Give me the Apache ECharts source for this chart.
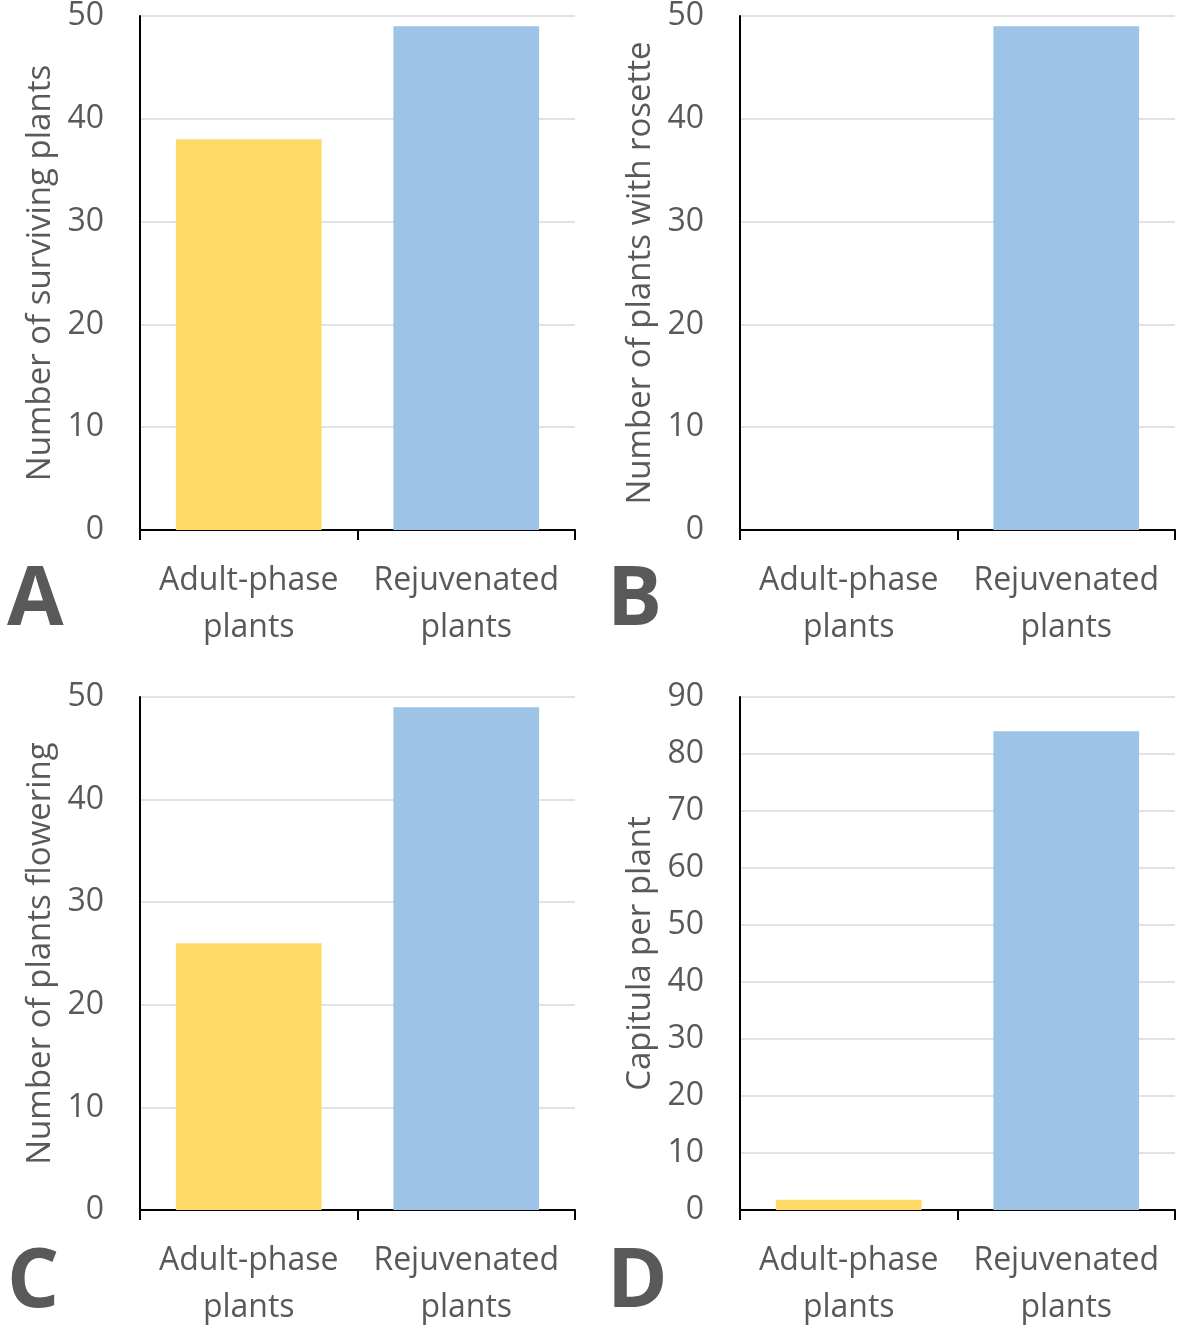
<!DOCTYPE html>
<html>
<head>
<meta charset="utf-8">
<script src="https://cdn.jsdelivr.net/npm/echarts@6/dist/echarts.min.js"></script>
<style>
  html, body { margin: 0; padding: 0; background: #fff; }
  #main { width: 1181px; height: 1331px; }
</style>
</head>
<body>
<div id="main"></div>
<script>
// values
var categories = ['Adult-phase\nplants', 'Rejuvenated\nplants'];
var survivingPlants = [38, 49];
var rosettePlants = [0, 49];
var floweringPlants = [26, 49];
var capitulaPerPlant = [1.8, 84];

var panelLetters = ['A', 'B', 'C', 'D'];
var axisNames = ['Number of surviving plants', 'Number of plants with rosette',
                 'Number of plants flowering', 'Capitula per plant'];
var axisMax = [50, 50, 50, 90];
var panelData = [survivingPlants, rosettePlants, floweringPlants, capitulaPerPlant];

var barColors = ['#FFD966', '#9DC3E6'];
var textColor = '#595959';
var font = 'Open Sans';

var grids = [
    { left: 140, top: 15, width: 435, height: 515 },
    { left: 740, top: 15, width: 435, height: 515 },
    { left: 140, top: 697, width: 435, height: 514 },
    { left: 740, top: 697, width: 435, height: 514 }
];
var letterPos = [[2, 556], [602, 556], [2, 1238], [602, 1238]];

var myChart = echarts.init(document.getElementById('main'));

var xAxes = [], yAxes = [], series = [], titles = [];
for (var i = 0; i < 4; i++) {
    xAxes.push({
        type: 'category',
        gridIndex: i,
        data: categories,
        axisLine: { lineStyle: { color: '#000', width: 2 } },
        axisTick: { show: true, length: 10, lineStyle: { color: '#000', width: 2 } },
        axisLabel: {
            color: textColor, fontFamily: font, fontSize: 32,
            lineHeight: 47, margin: 27, interval: 0
        }
    });
    yAxes.push({
        type: 'value',
        gridIndex: i,
        min: 0,
        max: axisMax[i],
        interval: 10,
        name: axisNames[i],
        nameLocation: 'middle',
        nameGap: 83,
        nameTextStyle: { color: textColor, fontFamily: font, fontSize: 33 },
        axisLine: { show: true, lineStyle: { color: '#000', width: 2 } },
        axisTick: { show: false },
        axisLabel: { color: textColor, fontFamily: font, fontSize: 32, margin: 36 },
        splitLine: { lineStyle: { color: '#d9d9d9', width: 1.5 } }
    });
    series.push({
        type: 'bar',
        xAxisIndex: i,
        yAxisIndex: i,
        barWidth: '67%',
        data: panelData[i].map(function (v, k) {
            return { value: v, itemStyle: { color: barColors[k] } };
        })
    });
    titles.push({
        text: panelLetters[i],
        left: letterPos[i][0],
        top: letterPos[i][1],
        textStyle: { color: textColor, fontFamily: font, fontSize: 82, fontWeight: 'bold' }
    });
}

var option = {
    backgroundColor: '#fff',
    animation: false,
    title: titles,
    grid: grids,
    xAxis: xAxes,
    yAxis: yAxes,
    series: series
};
myChart.setOption(option);
</script>
</body>
</html>
